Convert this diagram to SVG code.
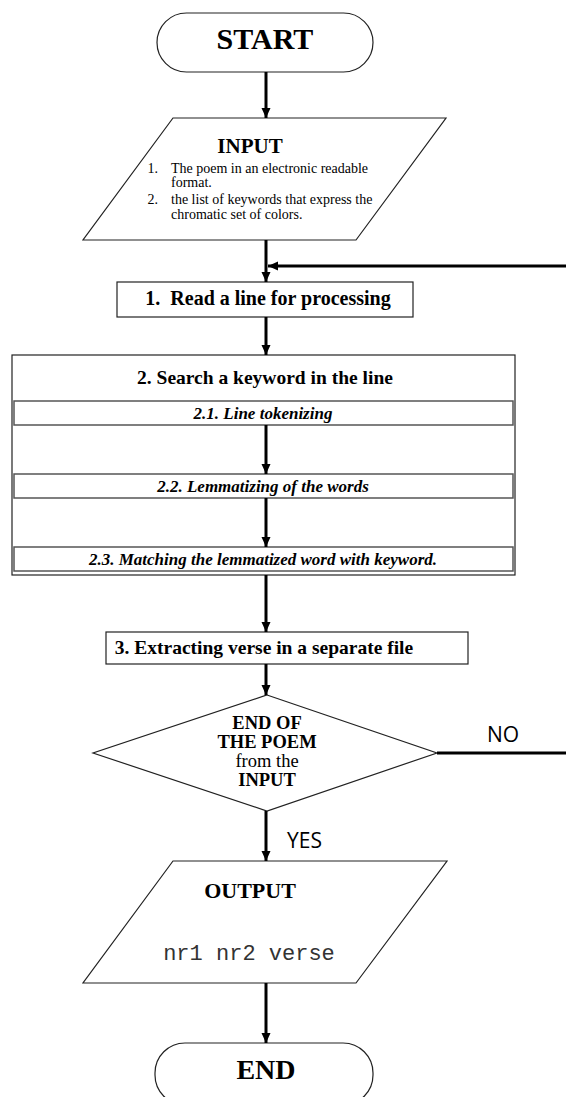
<svg xmlns="http://www.w3.org/2000/svg" width="566" height="1097" viewBox="0 0 566 1097">
<style>
.shape{fill:#fff;stroke:#222;stroke-width:1.2}
.sub{fill:#fff;stroke:#555;stroke-width:1.5}
.conn{stroke:#000;stroke-width:3;fill:none}
.tb{font-family:"Liberation Serif",serif;font-weight:bold;fill:#000}
.tr{font-family:"Liberation Serif",serif;fill:#000}
.ti{font-family:"Liberation Serif",serif;font-weight:bold;font-style:italic;fill:#000;font-size:17px}
.ts{font-family:"Open Sans","Liberation Sans",sans-serif;fill:#000;font-size:21px}
.mono{font-family:"Liberation Mono",monospace;fill:#333;font-size:22px}
</style>
<defs>
<marker id="ah" viewBox="0 0 10 10" markerWidth="10" markerHeight="10" markerUnits="userSpaceOnUse" refX="10" refY="5" orient="auto">
<path d="M0,0.5 L10,5 L0,9.5 z" fill="#000"/>
</marker>
</defs>
<rect width="566" height="1097" fill="#fff"/>
<g id="start">
<rect class="shape" x="157" y="13" width="216" height="59" rx="29.5"/>
<text class="tb" x="265" y="49" font-size="30" text-anchor="middle">START</text>
</g>
<g id="input">
<polygon class="shape" points="173,118 446,118 356,240 83,240"/>
<text class="tb" x="250" y="153" font-size="21" text-anchor="middle">INPUT</text>
<g class="tr" font-size="14">
<text x="158" y="173" text-anchor="end">1.</text>
<text x="171" y="173">The poem in an electronic readable</text>
<text x="171" y="187">format.</text>
<text x="158" y="204" text-anchor="end">2.</text>
<text x="171" y="204">the list of keywords that express the</text>
<text x="171" y="219">chromatic set of colors.</text>
</g>
</g>
<g id="read">
<rect class="shape" x="117" y="282" width="296" height="35"/>
<text class="tb" x="268" y="305" font-size="20" text-anchor="middle" xml:space="preserve">1.  Read a line for processing</text>
</g>
<g id="search">
<rect class="shape" x="12" y="355" width="503" height="220"/>
<text class="tb" x="265" y="384" font-size="19.5" text-anchor="middle">2. Search a keyword in the line</text>
</g>
<g id="tokenize">
<rect class="sub" x="14" y="401" width="499" height="24"/>
<text class="ti" x="263" y="419" text-anchor="middle">2.1. Line tokenizing</text>
</g>
<g id="lemmatize">
<rect class="sub" x="14" y="474" width="499" height="24"/>
<text class="ti" x="263" y="492" text-anchor="middle">2.2. Lemmatizing of the words</text>
</g>
<g id="match">
<rect class="sub" x="14" y="547" width="499" height="24"/>
<text class="ti" x="263" y="565" text-anchor="middle">2.3. Matching the lemmatized word with keyword.</text>
</g>
<g id="extract">
<rect class="shape" x="106" y="632" width="362" height="32"/>
<text class="tb" x="264" y="654" font-size="19.5" text-anchor="middle">3. Extracting verse in a separate file</text>
</g>
<g id="decision">
<polygon class="shape" points="267,695 437,753 267,811 93,753"/>
<text class="tb" x="267" y="729" font-size="18.5" text-anchor="middle">END OF</text>
<text class="tb" x="267" y="748" font-size="18.5" text-anchor="middle">THE POEM</text>
<text class="tr" x="267" y="767" font-size="18.5" text-anchor="middle">from the</text>
<text class="tb" x="267" y="786" font-size="18.5" text-anchor="middle">INPUT</text>
</g>
<g id="output">
<polygon class="shape" points="173,861 447,861 356,983 83,983"/>
<text class="tb" x="250" y="898" font-size="22" text-anchor="middle">OUTPUT</text>
<text class="mono" x="249" y="960" text-anchor="middle">nr1 nr2 verse</text>
</g>
<g id="end">
<rect class="shape" x="155" y="1043" width="218" height="62" rx="30"/>
<text class="tb" x="266" y="1079" font-size="28" text-anchor="middle">END</text>
</g>
<g id="connectors">
<line class="conn" x1="266" y1="72" x2="266" y2="118" marker-end="url(#ah)"/>
<line class="conn" x1="266" y1="240" x2="266" y2="282" marker-end="url(#ah)"/>
<line class="conn" x1="566" y1="266" x2="268" y2="266" marker-end="url(#ah)"/>
<line class="conn" x1="266" y1="317" x2="266" y2="355" marker-end="url(#ah)"/>
<line class="conn" x1="266" y1="425" x2="266" y2="474" marker-end="url(#ah)"/>
<line class="conn" x1="266" y1="498" x2="266" y2="547" marker-end="url(#ah)"/>
<line class="conn" x1="266" y1="575" x2="266" y2="632" marker-end="url(#ah)"/>
<line class="conn" x1="266" y1="664" x2="266" y2="695" marker-end="url(#ah)"/>
<line class="conn" x1="437" y1="753" x2="566" y2="753"/>
<text class="ts" x="487" y="742">NO</text>
<line class="conn" x1="266" y1="811" x2="266" y2="861" marker-end="url(#ah)"/>
<text class="ts" x="287" y="848">YES</text>
<line class="conn" x1="266" y1="983" x2="266" y2="1043" marker-end="url(#ah)"/>
</g>
</svg>
